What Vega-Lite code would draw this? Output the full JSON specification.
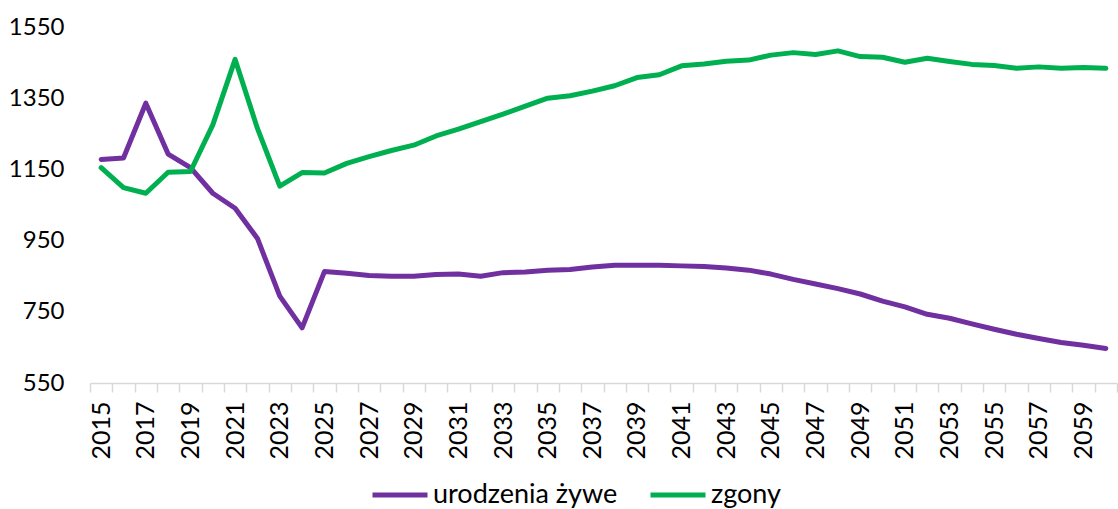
{
  "$schema": "https://vega.github.io/schema/vega-lite/v6.json",
  "width": 1027,
  "height": 356,
  "autosize": {"type": "none"},
  "padding": {"left": 90, "top": 27, "right": 1, "bottom": 126},
  "config": {
    "view": {"stroke": null},
    "font": "Lato",
    "axis": {"labelFont": "Lato", "labelColor": "#000000", "grid": false},
    "legend": {"labelFont": "Lato", "labelColor": "#000000"}
  },
  "data": {
    "values": [
      {"year": 2015, "series": "urodzenia żywe", "value": 1178},
      {"year": 2016, "series": "urodzenia żywe", "value": 1182},
      {"year": 2017, "series": "urodzenia żywe", "value": 1336},
      {"year": 2018, "series": "urodzenia żywe", "value": 1193},
      {"year": 2019, "series": "urodzenia żywe", "value": 1155},
      {"year": 2020, "series": "urodzenia żywe", "value": 1083},
      {"year": 2021, "series": "urodzenia żywe", "value": 1041},
      {"year": 2022, "series": "urodzenia żywe", "value": 956},
      {"year": 2023, "series": "urodzenia żywe", "value": 794},
      {"year": 2024, "series": "urodzenia żywe", "value": 705},
      {"year": 2025, "series": "urodzenia żywe", "value": 863},
      {"year": 2026, "series": "urodzenia żywe", "value": 858},
      {"year": 2027, "series": "urodzenia żywe", "value": 852},
      {"year": 2028, "series": "urodzenia żywe", "value": 850},
      {"year": 2029, "series": "urodzenia żywe", "value": 850},
      {"year": 2030, "series": "urodzenia żywe", "value": 855},
      {"year": 2031, "series": "urodzenia żywe", "value": 856},
      {"year": 2032, "series": "urodzenia żywe", "value": 850},
      {"year": 2033, "series": "urodzenia żywe", "value": 860},
      {"year": 2034, "series": "urodzenia żywe", "value": 862},
      {"year": 2035, "series": "urodzenia żywe", "value": 867},
      {"year": 2036, "series": "urodzenia żywe", "value": 869},
      {"year": 2037, "series": "urodzenia żywe", "value": 876},
      {"year": 2038, "series": "urodzenia żywe", "value": 881},
      {"year": 2039, "series": "urodzenia żywe", "value": 881},
      {"year": 2040, "series": "urodzenia żywe", "value": 881},
      {"year": 2041, "series": "urodzenia żywe", "value": 879},
      {"year": 2042, "series": "urodzenia żywe", "value": 877},
      {"year": 2043, "series": "urodzenia żywe", "value": 873},
      {"year": 2044, "series": "urodzenia żywe", "value": 867},
      {"year": 2045, "series": "urodzenia żywe", "value": 856},
      {"year": 2046, "series": "urodzenia żywe", "value": 841},
      {"year": 2047, "series": "urodzenia żywe", "value": 828},
      {"year": 2048, "series": "urodzenia żywe", "value": 815},
      {"year": 2049, "series": "urodzenia żywe", "value": 800},
      {"year": 2050, "series": "urodzenia żywe", "value": 780},
      {"year": 2051, "series": "urodzenia żywe", "value": 764},
      {"year": 2052, "series": "urodzenia żywe", "value": 743},
      {"year": 2053, "series": "urodzenia żywe", "value": 732},
      {"year": 2054, "series": "urodzenia żywe", "value": 716},
      {"year": 2055, "series": "urodzenia żywe", "value": 701},
      {"year": 2056, "series": "urodzenia żywe", "value": 687},
      {"year": 2057, "series": "urodzenia żywe", "value": 675},
      {"year": 2058, "series": "urodzenia żywe", "value": 664},
      {"year": 2059, "series": "urodzenia żywe", "value": 656},
      {"year": 2060, "series": "urodzenia żywe", "value": 647},
      {"year": 2015, "series": "zgony", "value": 1155},
      {"year": 2016, "series": "zgony", "value": 1099},
      {"year": 2017, "series": "zgony", "value": 1083},
      {"year": 2018, "series": "zgony", "value": 1142},
      {"year": 2019, "series": "zgony", "value": 1144},
      {"year": 2020, "series": "zgony", "value": 1275},
      {"year": 2021, "series": "zgony", "value": 1459},
      {"year": 2022, "series": "zgony", "value": 1265},
      {"year": 2023, "series": "zgony", "value": 1103},
      {"year": 2024, "series": "zgony", "value": 1141},
      {"year": 2025, "series": "zgony", "value": 1140},
      {"year": 2026, "series": "zgony", "value": 1167},
      {"year": 2027, "series": "zgony", "value": 1186},
      {"year": 2028, "series": "zgony", "value": 1203},
      {"year": 2029, "series": "zgony", "value": 1218},
      {"year": 2030, "series": "zgony", "value": 1244},
      {"year": 2031, "series": "zgony", "value": 1263},
      {"year": 2032, "series": "zgony", "value": 1284},
      {"year": 2033, "series": "zgony", "value": 1305},
      {"year": 2034, "series": "zgony", "value": 1328},
      {"year": 2035, "series": "zgony", "value": 1350},
      {"year": 2036, "series": "zgony", "value": 1357},
      {"year": 2037, "series": "zgony", "value": 1370},
      {"year": 2038, "series": "zgony", "value": 1385},
      {"year": 2039, "series": "zgony", "value": 1408},
      {"year": 2040, "series": "zgony", "value": 1416},
      {"year": 2041, "series": "zgony", "value": 1441},
      {"year": 2042, "series": "zgony", "value": 1446},
      {"year": 2043, "series": "zgony", "value": 1454},
      {"year": 2044, "series": "zgony", "value": 1457},
      {"year": 2045, "series": "zgony", "value": 1471},
      {"year": 2046, "series": "zgony", "value": 1478},
      {"year": 2047, "series": "zgony", "value": 1473},
      {"year": 2048, "series": "zgony", "value": 1483},
      {"year": 2049, "series": "zgony", "value": 1467},
      {"year": 2050, "series": "zgony", "value": 1465},
      {"year": 2051, "series": "zgony", "value": 1451},
      {"year": 2052, "series": "zgony", "value": 1462},
      {"year": 2053, "series": "zgony", "value": 1453},
      {"year": 2054, "series": "zgony", "value": 1445},
      {"year": 2055, "series": "zgony", "value": 1442},
      {"year": 2056, "series": "zgony", "value": 1434},
      {"year": 2057, "series": "zgony", "value": 1438},
      {"year": 2058, "series": "zgony", "value": 1434},
      {"year": 2059, "series": "zgony", "value": 1436},
      {"year": 2060, "series": "zgony", "value": 1434}
    ]
  },
  "mark": {"type": "line", "strokeWidth": 5, "strokeJoin": "round", "strokeCap": "round"},
  "encoding": {
    "x": {
      "field": "year",
      "type": "ordinal",
      "scale": {"type": "band", "paddingInner": 0, "paddingOuter": 0},
      "axis": {
        "title": null,
        "tickBand": "extent",
        "labelAngle": -90,
        "labelFontSize": 25,
        "labelPadding": 9,
        "labelExpr": "datum.value % 2 == 1 ? datum.label : ''",
        "labelOverlap": false,
        "tickSize": 9,
        "tickColor": "#D9D9D9",
        "tickWidth": 1.5,
        "domainColor": "#D9D9D9",
        "domainWidth": 1.5
      }
    },
    "y": {
      "field": "value",
      "type": "quantitative",
      "scale": {"domain": [550, 1550], "nice": false, "zero": false},
      "axis": {
        "title": null,
        "values": [550, 750, 950, 1150, 1350, 1550],
        "format": "d",
        "ticks": false,
        "domain": false,
        "labelFontSize": 24,
        "labelPadding": 26
      }
    },
    "color": {
      "field": "series",
      "type": "nominal",
      "scale": {"domain": ["urodzenia żywe", "zgony"], "range": ["#7030A0", "#00B050"]},
      "legend": {
        "title": null,
        "orient": "none",
        "direction": "horizontal",
        "legendX": 280,
        "legendY": 438,
        "symbolType": "stroke",
        "symbolSize": 3025,
        "symbolStrokeWidth": 5,
        "labelFontSize": 27,
        "labelLimit": 400,
        "labelOffset": 3,
        "columnPadding": 22
      }
    }
  }
}
